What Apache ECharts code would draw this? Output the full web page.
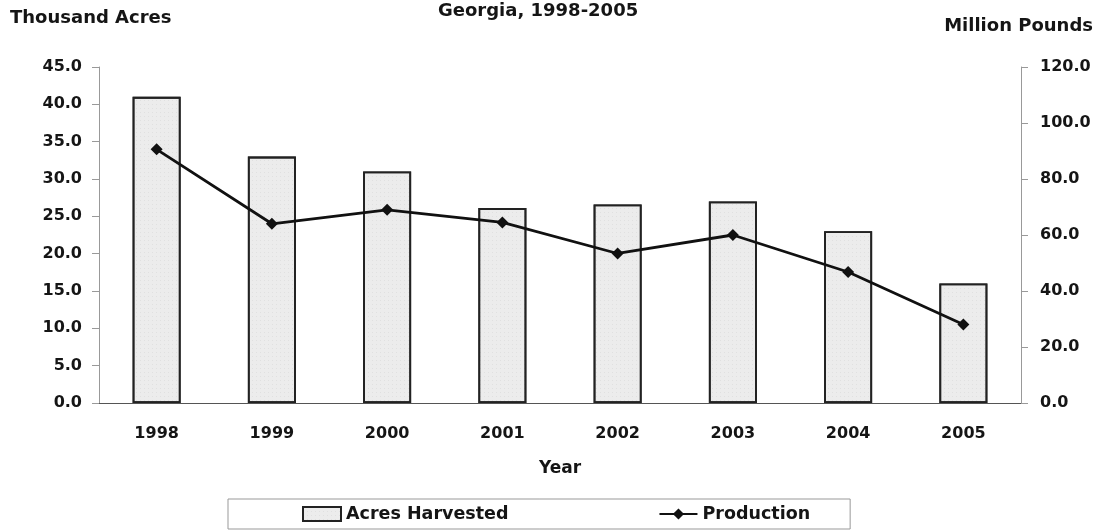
<!DOCTYPE html>
<html>
<head>
<meta charset="utf-8">
<script src="https://cdn.jsdelivr.net/npm/echarts@6/dist/echarts.min.js"></script>
<style>
  html, body { margin: 0; padding: 0; background: #fff; }
  #chart { width: 1101px; height: 531px; }
</style>
</head>
<body>
<div id="chart"></div>
<script>
// data
var years = ['1998', '1999', '2000', '2001', '2002', '2003', '2004', '2005'];
var acresHarvested = [41.0, 33.0, 31.0, 26.1, 26.6, 27.0, 23.0, 16.0]; // thousand acres
var production = [90.6, 64.0, 69.0, 64.5, 53.4, 60.0, 46.8, 28.0];     // million pounds

var FONT = 'DejaVu Sans';
var INK = '#151515';

var myChart = echarts.init(document.getElementById('chart'));

var option = {
  animation: false,
  textStyle: { fontFamily: FONT, color: INK },
  title: [
    {
      text: 'Georgia, 1998-2005',
      left: 438, top: 2, padding: 0,
      textStyle: { fontFamily: FONT, fontSize: 18, fontWeight: 'bold', color: INK }
    },
    {
      text: 'Thousand Acres',
      left: 10, top: 9, padding: 0,
      textStyle: { fontFamily: FONT, fontSize: 18, fontWeight: 'bold', color: INK }
    },
    {
      text: 'Million Pounds',
      right: 8, top: 17, padding: 0,
      textStyle: { fontFamily: FONT, fontSize: 18, fontWeight: 'bold', color: INK }
    }
  ],
  grid: { left: 99, right: 80, top: 67, bottom: 128 },
  legend: {
    left: 228, top: 499,
    padding: [6, 40, 6, 74],
    borderColor: '#999', borderWidth: 1,
    itemWidth: 38, itemHeight: 14, itemGap: 150,
    textStyle: { fontFamily: FONT, fontSize: 17.5, fontWeight: 'bold', color: INK },
    data: [{ name: 'Acres Harvested', icon: 'rect' }, 'Production']
  },
  xAxis: {
    type: 'category',
    data: years,
    name: 'Year',
    nameLocation: 'middle',
    nameGap: 57,
    nameTextStyle: { fontFamily: FONT, fontSize: 17, fontWeight: 'bold', color: INK },
    axisLine: { lineStyle: { color: '#555', width: 1 } },
    axisTick: { length: 7, lineStyle: { color: '#777' } },
    axisLabel: { margin: 23, fontFamily: FONT, fontSize: 16, fontWeight: 'bold', color: INK }
  },
  yAxis: [
    {
      type: 'value',
      min: 0, max: 45, interval: 5,
      axisLine: { show: true, lineStyle: { color: '#999' } },
      axisTick: { show: true, length: 7, lineStyle: { color: '#999' } },
      splitLine: { show: false },
      axisLabel: {
        margin: 17, fontFamily: FONT, fontSize: 16, fontWeight: 'bold', color: INK,
        formatter: function (v) { return v.toFixed(1); }
      }
    },
    {
      type: 'value',
      min: 0, max: 120, interval: 20,
      position: 'right',
      axisLine: { show: true, lineStyle: { color: '#999' } },
      axisTick: { show: true, length: 7, lineStyle: { color: '#999' } },
      splitLine: { show: false },
      axisLabel: {
        margin: 19, fontFamily: FONT, fontSize: 16, fontWeight: 'bold', color: INK,
        formatter: function (v) { return v.toFixed(1); }
      }
    }
  ],
  series: [
    {
      name: 'Acres Harvested',
      type: 'bar',
      yAxisIndex: 0,
      barWidth: 48,
      data: acresHarvested,
      itemStyle: {
        color: '#ececec',
        borderColor: '#222',
        borderWidth: 1.8,
        decal: {
          symbol: 'rect',
          symbolSize: 0.35,
          color: 'rgba(0,0,0,0.3)',
          dashArrayX: [1, 3],
          dashArrayY: [1, 3],
          rotation: 0
        }
      }
    },
    {
      name: 'Production',
      type: 'line',
      yAxisIndex: 1,
      data: production,
      symbol: 'diamond',
      symbolSize: 12,
      lineStyle: { color: '#111', width: 2.8 },
      itemStyle: { color: '#111' }
    }
  ]
};

myChart.setOption(option);
</script>
</body>
</html>
